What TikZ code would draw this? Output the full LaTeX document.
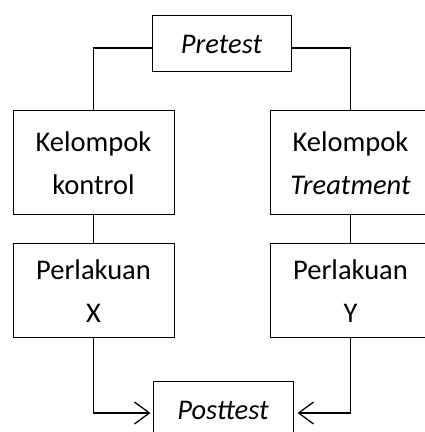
\documentclass[tikz,border=0pt]{standalone}
\usepackage{fontspec}
\setmainfont{Carlito}
\usetikzlibrary{arrows.meta}
\tikzset{
  box/.style={draw=black, line width=1pt, align=center, inner sep=0pt,
    font=\fontsize{28.5}{43}\selectfont},
  conn/.style={draw=black, line width=1.3pt},
  arr/.style={conn, -{Straight Barb[length=15pt,width=22pt,line width=1.3pt]}}
}
\begin{document}
\begin{tikzpicture}[x=1pt,y=1pt]
\useasboundingbox (0,0) rectangle (425,432);
\clip (0,0) rectangle (425,432);
\node[box, minimum width=139pt, minimum height=56pt] (pre) at (221.5,388) {\itshape Pretest};
\node[box, minimum width=161pt, minimum height=104pt] (kk) at (93.5,269) {Kelompok\\kontrol};
\node[box, minimum width=161pt, minimum height=104pt] (kt) at (350.5,269) {Kelompok\\\itshape Treatment};
\node[box, minimum width=161pt, minimum height=94pt] (px) at (93.5,141) {Perlakuan\\X};
\node[box, minimum width=161pt, minimum height=94pt] (py) at (350.5,141) {Perlakuan\\Y};
\node[box, minimum width=140pt, minimum height=56pt] (post) at (223,22) {\itshape Posttest};
\draw[conn] ([yshift=-4pt]pre.west) -| (kk.north);
\draw[conn] ([yshift=-4pt]pre.east) -| (kt.north);
\draw[conn] (kk.south) -- (px.north);
\draw[conn] (kt.south) -- (py.north);
\draw[arr] (px.south) |- ([xshift=-2pt,yshift=-3pt]post.west);
\draw[arr] (py.south) |- ([xshift=4pt,yshift=-3pt]post.east);
\end{tikzpicture}
\end{document}
